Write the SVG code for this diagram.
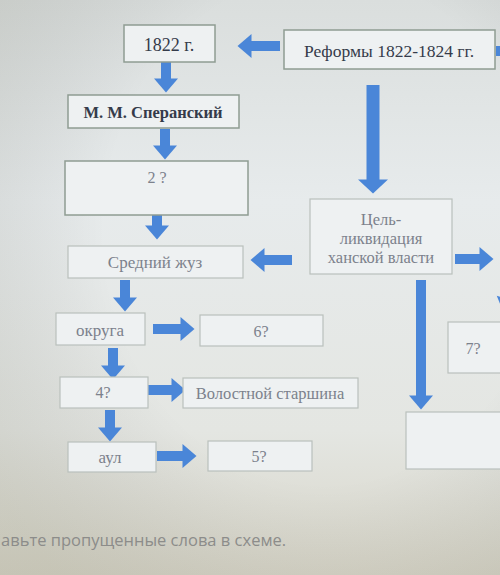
<svg xmlns="http://www.w3.org/2000/svg" width="500" height="575" viewBox="0 0 500 575">
<defs>
<linearGradient id="bg" x1="0" y1="0" x2="0" y2="1">
<stop offset="0" stop-color="#dadedd"/>
<stop offset="0.35" stop-color="#e7ebec"/>
<stop offset="0.75" stop-color="#e4e6e2"/>
<stop offset="1" stop-color="#d7d5c8"/>
</linearGradient>
<radialGradient id="vig" cx="0.65" cy="0.4" r="0.8">
<stop offset="0.55" stop-color="#000" stop-opacity="0"/>
<stop offset="1" stop-color="#55553a" stop-opacity="0.13"/>
</radialGradient>
<marker id="ah" markerUnits="userSpaceOnUse" markerWidth="14" markerHeight="24" viewBox="0 0 14 24" refX="0.5" refY="12" orient="auto" overflow="visible">
<path d="M0,0 L14,12 L0,24 Z" fill="#4a86d8"/>
</marker>
<marker id="ahL" markerUnits="userSpaceOnUse" markerWidth="14" markerHeight="30" viewBox="0 0 14 30" refX="0.5" refY="15" orient="auto" overflow="visible">
<path d="M0,0 L14,15 L0,30 Z" fill="#4a86d8"/>
</marker>
</defs>
<style>
.box{fill:#eef1f2;stroke:#8f9c92;stroke-width:1.5}
.boxl{fill:#eef1f2;stroke:#b9c0bc;stroke-width:1.2}
.t{font-family:"Liberation Serif",serif;fill:#353b4a;text-anchor:middle}
.tl{font-family:"Liberation Serif",serif;fill:#7c818c;text-anchor:middle}
.ar{stroke:#4a86d8;stroke-width:10;fill:none;marker-end:url(#ah)}
.arL{stroke:#4a86d8;stroke-width:13;fill:none;marker-end:url(#ahL)}
</style>
<rect width="500" height="575" fill="url(#bg)"/>
<rect width="500" height="575" fill="url(#vig)"/>

<g id="connectors">
<line class="ar" x1="280" y1="46" x2="251" y2="46"/>
<line class="ar" x1="166" y1="62" x2="166" y2="79"/>
<line class="ar" x1="165" y1="129" x2="165" y2="146"/>
<line class="ar" x1="157" y1="215" x2="157" y2="226"/>
<line class="arL" x1="373" y1="85" x2="373" y2="180"/>
<line class="ar" x1="292" y1="260" x2="264" y2="260"/>
<line class="ar" x1="455" y1="259" x2="480" y2="259"/>
<line class="ar" x1="125" y1="280" x2="125" y2="298"/>
<line class="ar" x1="153" y1="329" x2="181" y2="329"/>
<line class="ar" x1="113" y1="348" x2="113" y2="366"/>
<line class="ar" x1="147" y1="390" x2="172" y2="390"/>
<line class="ar" x1="110" y1="410" x2="110" y2="428"/>
<line class="ar" x1="157" y1="456" x2="183" y2="456"/>
<line class="ar" x1="421" y1="280" x2="421" y2="396"/>
<line stroke="#4a86d8" stroke-width="10" x1="496" y1="51" x2="505" y2="51"/>
<line class="ar" x1="512" y1="288" x2="508" y2="300"/>
</g>

<g id="n1822"><rect class="box" x="124" y="25" width="91" height="37"/><text class="t" x="169" y="51" font-size="18">1822 г.</text></g>
<g id="reforms"><rect class="box" x="284" y="30" width="211" height="39"/><text class="t" x="389" y="57" font-size="17.5">Реформы 1822-1824 гг.</text></g>
<g id="speransky"><rect class="box" x="68" y="95" width="171" height="33"/><text class="t" x="153" y="118" font-size="16.5" font-weight="bold">М. М. Сперанский</text></g>
<g id="q2"><rect class="box" x="65" y="161" width="183" height="54"/><text class="tl" x="157" y="183" font-size="16">2 ?</text></g>
<g id="sredniy"><rect class="boxl" x="68" y="246" width="175" height="32"/><text class="tl" x="155" y="268" font-size="17">Средний жуз</text></g>
<g id="goal"><rect class="boxl" x="310" y="199" width="142" height="75"/>
<text class="tl" x="381" y="225" font-size="16.5">Цель-</text>
<text class="tl" x="381" y="244" font-size="16.5">ликвидация</text>
<text class="tl" x="381" y="263" font-size="16.5">ханской власти</text></g>
<g id="okruga"><rect class="boxl" x="56" y="313" width="89" height="32"/><text class="tl" x="100" y="336" font-size="17">округа</text></g>
<g id="q6"><rect class="boxl" x="200" y="315" width="123" height="31"/><text class="tl" x="261" y="337" font-size="16">6?</text></g>
<g id="q4"><rect class="boxl" x="60" y="377" width="88" height="31"/><text class="tl" x="103" y="398" font-size="16">4?</text></g>
<g id="volost"><rect class="boxl" x="183" y="378" width="175" height="30"/><text class="tl" x="270" y="399" font-size="16.5">Волостной старшина</text></g>
<g id="aul"><rect class="boxl" x="68" y="442" width="88" height="30"/><text class="tl" x="110" y="463" font-size="17">аул</text></g>
<g id="q5"><rect class="boxl" x="208" y="441" width="104" height="30"/><text class="tl" x="259" y="462" font-size="16">5?</text></g>
<g id="q7"><rect class="boxl" x="448" y="322" width="60" height="51"/><text class="tl" x="473" y="354" font-size="16">7?</text></g>
<g id="empty"><rect class="boxl" x="406" y="412" width="100" height="57"/></g>

<text x="1" y="546" font-family="'Open Sans',sans-serif" font-size="16.5" fill="#8c8c8a">авьте пропущенные слова в схеме.</text>
</svg>
